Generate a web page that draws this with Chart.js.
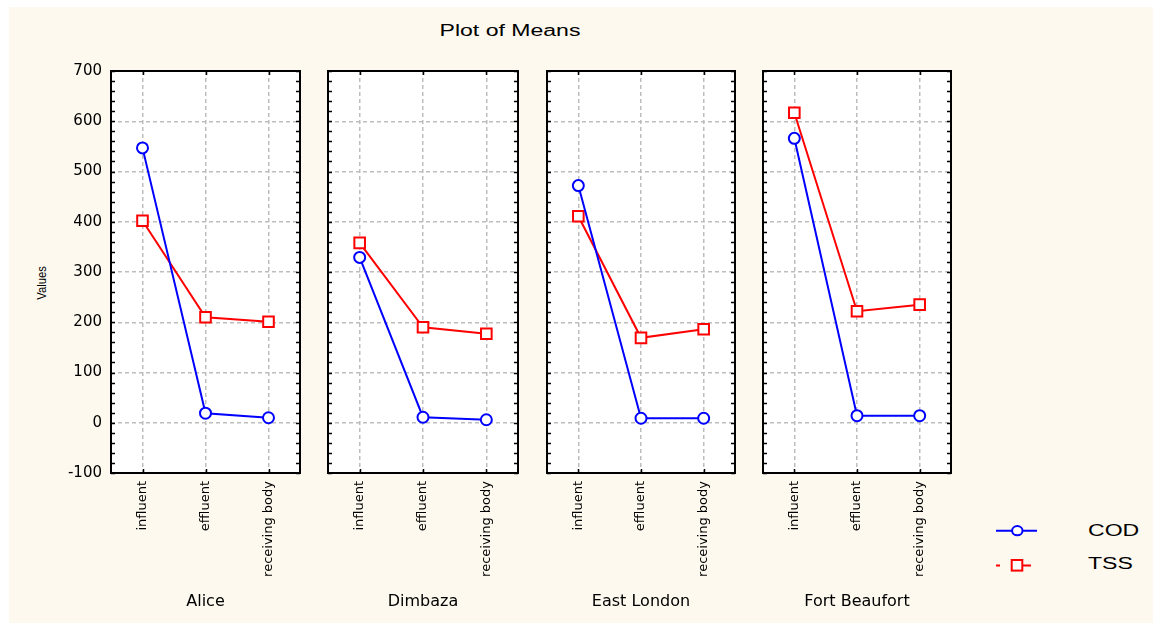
<!DOCTYPE html>
<html>
<head>
<meta charset="utf-8">
<title>Plot of Means</title>
<script src="https://cdn.jsdelivr.net/npm/chart.js@4.4.1/dist/chart.umd.min.js"></script>
<style>
  html, body { margin: 0; padding: 0; background: #ffffff; width: 1153px; height: 626px; overflow: hidden; }
  #frame { position: absolute; left: 9px; top: 7px; width: 1144px; height: 616px; background: #fdf9ee; }
  canvas { position: absolute; top: 0; }
  .txt { position: absolute; font-family: "Liberation Sans", Arial, sans-serif; font-size: 16px;
         line-height: 16px; color: #000; white-space: nowrap; transform-origin: 0 50%; }
  #legendIcons { position: absolute; left: 990px; top: 515px; }
  #yTitle { position: absolute; left: 42px; top: 283px; font-family: "Liberation Sans", Arial, sans-serif;
            font-size: 12.5px; line-height: 12px; color: #000; white-space: nowrap;
            transform: translate(-50%, -50%) rotate(-90deg) scaleX(0.9); }
</style>
</head>
<body>
<div id="frame"></div>
<div class="txt" style="left:510px; top:23px; transform-origin:50% 50%; transform:translateX(-50%) scaleX(1.44);">Plot of Means</div>
<div id="yTitle">Values</div>

<svg id="legendIcons" width="50" height="60" viewBox="0 0 50 60">
  <line x1="6" y1="15.7" x2="47" y2="15.7" stroke="#0000ff" stroke-width="2"/>
  <ellipse cx="27.3" cy="15.7" rx="5.2" ry="4.6" fill="#ffffff" stroke="#0000ff" stroke-width="2"/>
  <line x1="6" y1="50.5" x2="10" y2="50.5" stroke="#ff0000" stroke-width="2"/>
  <line x1="32" y1="50.5" x2="41" y2="50.5" stroke="#ff0000" stroke-width="2"/>
  <rect x="21.7" y="45" width="10.6" height="10.6" fill="#ffffff" stroke="#ff0000" stroke-width="2"/>
</svg>
<div class="txt" style="left:1088px; top:523px; transform:scaleX(1.44);">COD</div>
<div class="txt" style="left:1088px; top:556px; transform:scaleX(1.44);">TSS</div>

<script>
// Sampling sites (one panel each) and treatment stages (categories on each x axis)
const sites = ['Alice', 'Dimbaza', 'East London', 'Fort Beaufort'];
const stages = ['influent', 'effluent', 'receiving body'];

// Mean COD per stage, one array per site
const codAlice = [547, 19, 10];
const codDimbaza = [329, 11, 6];
const codEastLondon = [472, 9, 9];
const codFortBeaufort = [566, 14, 14];

// Mean TSS per stage, one array per site
const tssAlice = [402, 210, 201];
const tssDimbaza = [358, 190, 177];
const tssEastLondon = [411, 169, 186];
const tssFortBeaufort = [617, 222, 235];

// Shared value axis
const yMin = -100;
const yMax = 700;
const yStep = 100;
const yMinorStep = 20;

const codBySite = [codAlice, codDimbaza, codEastLondon, codFortBeaufort];
const tssBySite = [tssAlice, tssDimbaza, tssEastLondon, tssFortBeaufort];

// Horizontal extent of each panel's plotting area (pixels)
const panelLeft = [111, 328, 547, 763];
const panelRight = [300, 518, 735, 951];
const canvasHeight = 620;
const plotTop = 71;
const xAxisHeight = 147;

const gridColor = '#bdbdbd';
const tickFont = { family: 'DejaVu Sans', size: 15 };

// White plot background, black frame and short inward tick marks on every side
const panelFrame = {
  id: 'panelFrame',
  beforeDraw(chart) {
    const { ctx, chartArea: a } = chart;
    ctx.save();
    ctx.fillStyle = '#ffffff';
    ctx.fillRect(a.left, a.top, a.right - a.left, a.bottom - a.top);
    ctx.restore();
  },
  afterDraw(chart) {
    const { ctx, chartArea: a, scales } = chart;
    const x = scales.x, y = scales.y;
    ctx.save();
    ctx.strokeStyle = '#000000';
    ctx.lineWidth = 1.5;
    ctx.beginPath();
    for (let v = yMin; v <= yMax; v += yMinorStep) {
      const py = Math.round(y.getPixelForValue(v)) + 0.5;
      ctx.moveTo(a.left, py); ctx.lineTo(a.left + 4, py);
      ctx.moveTo(a.right - 4, py); ctx.lineTo(a.right, py);
    }
    stages.forEach((_, k) => {
      const px = Math.round(x.getPixelForValue(k)) + 0.5;
      ctx.moveTo(px, a.top); ctx.lineTo(px, a.top + 4);
      ctx.moveTo(px, a.bottom - 4); ctx.lineTo(px, a.bottom);
    });
    ctx.stroke();
    ctx.lineWidth = 2;
    ctx.strokeRect(a.left, a.top, a.right - a.left, a.bottom - a.top);
    ctx.restore();
  }
};

function makePanel(i) {
  const first = i === 0;
  const side = 6;
  const left = first ? 0 : panelLeft[i] - side;
  const width = panelRight[i] + side - left;

  const canvas = document.createElement('canvas');
  canvas.width = width;
  canvas.height = canvasHeight;
  canvas.style.left = left + 'px';
  canvas.style.width = width + 'px';
  canvas.style.height = canvasHeight + 'px';
  document.body.appendChild(canvas);

  new Chart(canvas, {
    type: 'line',
    data: {
      labels: stages,
      datasets: [
        {
          label: 'COD',
          data: codBySite[i],
          borderColor: '#0000ff',
          backgroundColor: '#ffffff',
          borderWidth: 2,
          tension: 0,
          pointStyle: 'circle',
          pointRadius: 5.5,
          pointBorderWidth: 2,
          pointBackgroundColor: '#ffffff',
          pointBorderColor: '#0000ff',
          clip: false
        },
        {
          label: 'TSS',
          data: tssBySite[i],
          borderColor: '#ff0000',
          backgroundColor: '#ffffff',
          borderWidth: 2,
          tension: 0,
          pointStyle: 'rect',
          pointRadius: 7.5,
          pointBorderWidth: 2,
          pointBackgroundColor: '#ffffff',
          pointBorderColor: '#ff0000',
          clip: false
        }
      ]
    },
    options: {
      responsive: false,
      animation: false,
      devicePixelRatio: 1,
      layout: {
        autoPadding: false,
        padding: { top: plotTop, bottom: 0, left: first ? 0 : side, right: side }
      },
      plugins: { legend: { display: false }, tooltip: { enabled: false }, title: { display: false } },
      scales: {
        x: {
          type: 'category',
          offset: true,
          grid: { offset: false, color: gridColor, lineWidth: 1.5, drawTicks: false },
          border: { display: false, dash: [4, 3] },
          ticks: {
            autoSkip: false, minRotation: 90, maxRotation: 90, padding: 8,
            color: '#000000', font: { family: 'DejaVu Sans', size: 13 }
          },
          title: {
            display: true, text: sites[i], color: '#000000',
            font: { family: 'DejaVu Sans', size: 16 },
            padding: { top: 0, bottom: 8.5 }
          },
          afterFit(scale) {
            scale.height = xAxisHeight;
            scale.paddingLeft = 0;
            scale.paddingRight = 0;
          }
        },
        y: {
          min: yMin,
          max: yMax,
          grid: { color: gridColor, lineWidth: 1.5, drawTicks: false },
          border: { display: false, dash: [4, 3] },
          ticks: { display: first, stepSize: yStep, padding: 9, color: '#000000', font: tickFont },
          title: { display: false },
          afterFit(scale) {
            scale.width = first ? panelLeft[0] : 0;
            scale.paddingTop = 0;
            scale.paddingBottom = 0;
          }
        }
      }
    },
    plugins: [panelFrame]
  });
}

sites.forEach((_, i) => makePanel(i));
</script>
</body>
</html>
